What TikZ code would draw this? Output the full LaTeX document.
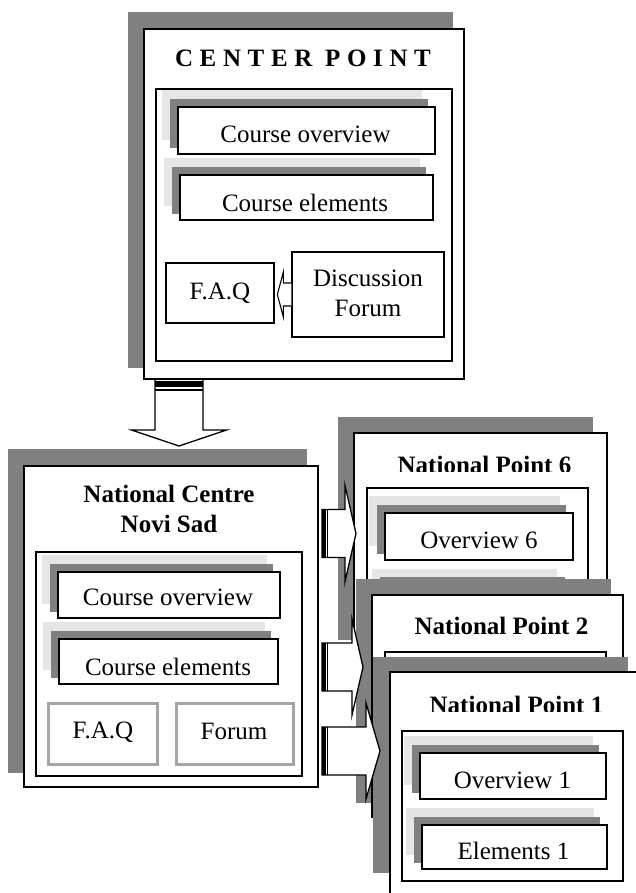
\documentclass[tikz,border=0pt]{standalone}
\usepackage{fontspec}
\setmainfont{Liberation Serif}
\definecolor{shadegray}{HTML}{808080}
\definecolor{palegray}{HTML}{E6E6E6}
\definecolor{framegray}{HTML}{A6A6A6}

% box with a pale and a dark shadow up and to the left
\newcommand{\shadebox}[5]{%
  \fill[palegray] ({#2-16},{#3-17}) rectangle ({#4-13},{#5-14});
  \fill[shadegray] ({#2-8},{#3-8}) rectangle ({#4-7},{#5-6});
  \node[box, minimum width={#4-#2}, minimum height={#5-#3}] (#1) at ({(#2+#4)/2},{(#3+#5)/2}) {};
}
% block arrow pointing right: start, head base, tip
\newcommand{\blockright}[3]{%
  \begin{scope}[shift={(#1)}]
    \draw[blockarrow] (0,-24) -- (#2,-24) -- (#2,-48) -- (#3,0) -- (#2,48) -- (#2,24) -- (0,24) -- cycle;
    \fill (0,-24) rectangle (3.5,24);
    \draw[line width=1.2pt] (5.5,-24) -- (5.5,24);
  \end{scope}
}

\begin{document}
\begin{tikzpicture}[x=1pt, y=-1pt,
    box/.style={draw, fill=white, line width=1.3pt, inner sep=0pt},
    graybox/.style={draw=framegray, fill=white, line width=3pt, inner sep=0pt},
    blockarrow/.style={draw, fill=white, line width=1.3pt, line join=miter},
    txt/.style={font=\fontsize{25}{29.5}\selectfont, inner sep=0pt, anchor=base},
    ttl/.style={txt, font=\fontsize{25}{29.5}\selectfont\bfseries}]
  \useasboundingbox (0,0) rectangle (636,893);
  \clip (0,0) rectangle (636,893);

  % center point
  \fill[shadegray] (128,12) rectangle (453,368);
  \node[box, minimum width=320, minimum height=350] (cp) at (304,204) {};
  \node[ttl] (cptitle) at (303,66.5) {\addfontfeature{LetterSpace=26.5}CENTER POINT};
  \node[box, minimum width=296, minimum height=272] (cpin) at (304,225) {};
  \shadebox{cpov}{178}{107}{435}{154}
  \node[txt] (cpovt) at (305.5,143) {Course overview};
  \shadebox{cpel}{180}{175}{433}{220}
  \node[txt] (cpelt) at (305,212) {Course elements};
  \node[box, minimum width=108, minimum height=60] (cpfaq) at (220,293) {};
  \node[txt] (cpfaqt) at (220,299.5) {F.A.Q};
  \node[box, minimum width=152, minimum height=85] (cpforum) at (368,294.5) {};
  \node[txt, align=center] (cpforumt) at (368,316) {Discussion\\Forum};
  \coordinate (lft) at (cpforum.west);
  \draw[blockarrow, line width=1.1pt] (lft) ++(0,-11.5) -- ++(-8,0) -- ++(0,-11) -- ++(-6,22.5)
    -- ++(6,22.5) -- ++(0,-11) -- ++(8,0);

  % arrow down to the national centre
  \coordinate (dn) at (179,380);
  \begin{scope}[shift={(dn)}]
    \draw[blockarrow] (-24,0) -- (-24,50) -- (-47.5,50) -- (0,66) -- (47.5,50) -- (24,50) -- (24,0);
    \fill (-24,1) rectangle (24,7);
    \draw[line width=1.2pt] (-24,10) -- (24,10);
  \end{scope}

  % national centre
  \fill[shadegray] (8,449) rectangle (307,773);
  \node[box, minimum width=294, minimum height=321] (nc) at (171,626.5) {};
  \node[ttl, align=center] (nctitle) at (169,532) {National Centre\\Novi Sad};
  \node[box, minimum width=266, minimum height=224] (ncin) at (169,664) {};
  \shadebox{ncov}{58}{572}{280}{618}
  \node[txt] (ncovt) at (168,605) {Course overview};
  \shadebox{ncel}{59}{639}{278}{684}
  \node[txt] (ncelt) at (168,675) {Course elements};
  \node[graybox, minimum width=109, minimum height=61] (ncfaq) at (102.5,733.5) {};
  \node[txt] (ncfaqt) at (103,738.5) {F.A.Q};
  \node[graybox, minimum width=117, minimum height=61] (ncforum) at (234.5,733.5) {};
  \node[txt] (ncforumt) at (234,739.5) {Forum};

  % national point 6
  \fill[shadegray] (338,417) rectangle (593,640);
  \node[box, minimum width=253, minimum height=220] (np6) at (480.5,543) {};
  \begin{scope}
    \clip (354,440) rectangle (607,471);
    \node[ttl] (np6title) at (484.5,473) {National Point 6};
  \end{scope}
  \node[box, minimum width=221, minimum height=120] (np6in) at (477.5,548) {};
  \shadebox{np6ov}{385}{513}{573}{560}
  \node[txt] (np6ovt) at (479,548) {Overview 6};
  \fill[palegray] (372,569) rectangle (557,615);
  \fill[shadegray] (380,577) rectangle (565,622);

  % national point 2
  \fill[shadegray] (356,579) rectangle (611,803);
  \node[box, minimum width=251, minimum height=222] (np2) at (497.5,706) {};
  \node[ttl] (np2title) at (501.5,634) {National Point 2};
  \node[box, minimum width=221, minimum height=120] (np2in) at (495.5,712) {};

  % national point 1
  \fill[shadegray] (373,657) rectangle (628,873);
  \node[box, minimum width=252, minimum height=250] (np1) at (516,797) {};
  \begin{scope}
    \clip (390,680) rectangle (636,711.5);
    \node[ttl] (np1title) at (516.5,713.5) {National Point 1};
  \end{scope}
  \node[box, minimum width=221, minimum height=150] (np1in) at (512.5,806) {};
  \shadebox{np1ov}{420}{753}{606}{799}
  \node[txt] (np1ovt) at (512.5,788) {Overview 1};
  \shadebox{np1el}{422}{825}{607}{869}
  \node[txt] (np1elt) at (513.5,859.5) {Elements 1};

  % arrows to the national points
  \coordinate (to6) at (322,533.5);
  \coordinate (to2) at (322,667);
  \coordinate (to1) at (322,751);
  \blockright{to6}{23}{34}
  \blockright{to2}{30}{41}
  \blockright{to1}{44}{58}
\end{tikzpicture}
\end{document}
